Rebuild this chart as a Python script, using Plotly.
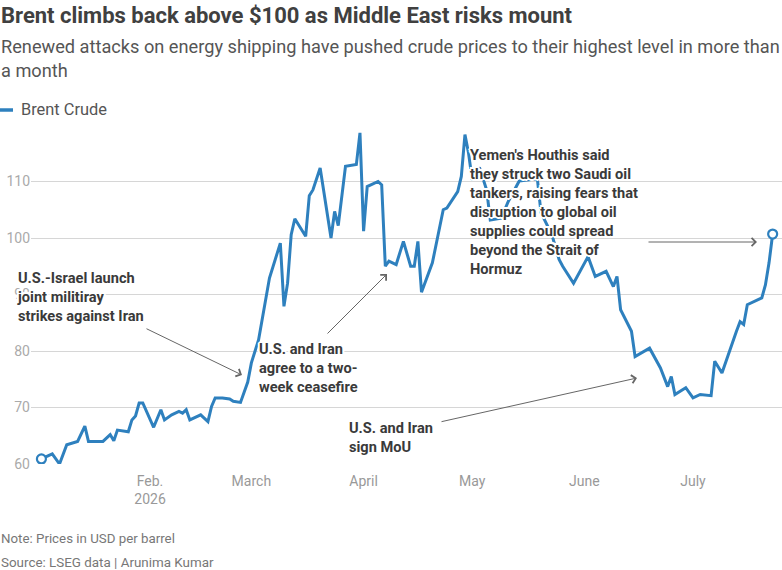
import plotly.graph_objects as go

# ---------------- data ----------------
dates = [
    "2026-01-02", "2026-01-05", "2026-01-07", "2026-01-09", "2026-01-12", "2026-01-14",
    "2026-01-15", "2026-01-19", "2026-01-21", "2026-01-22", "2026-01-23", "2026-01-26",
    "2026-01-27", "2026-01-28", "2026-01-29", "2026-01-30", "2026-02-02", "2026-02-04",
    "2026-02-05", "2026-02-07", "2026-02-09", "2026-02-10", "2026-02-11", "2026-02-12",
    "2026-02-15", "2026-02-17", "2026-02-18", "2026-02-19", "2026-02-21", "2026-02-23",
    "2026-02-24", "2026-02-25", "2026-02-26", "2026-02-28", "2026-03-01", "2026-03-03",
    "2026-03-04", "2026-03-06", "2026-03-09", "2026-03-10", "2026-03-11", "2026-03-12",
    "2026-03-13", "2026-03-16", "2026-03-17", "2026-03-18", "2026-03-20", "2026-03-23",
    "2026-03-24", "2026-03-25", "2026-03-27", "2026-03-30", "2026-03-31", "2026-04-01",
    "2026-04-02", "2026-04-05", "2026-04-06", "2026-04-07", "2026-04-08", "2026-04-10",
    "2026-04-12", "2026-04-14", "2026-04-15", "2026-04-16", "2026-04-17", "2026-04-20",
    "2026-04-23", "2026-04-24", "2026-04-27", "2026-04-28", "2026-04-29", "2026-04-30",
    "2026-05-01", "2026-05-03", "2026-05-05", "2026-05-06", "2026-05-09", "2026-05-11",
    "2026-05-14", "2026-05-19", "2026-05-20", "2026-05-23", "2026-05-25", "2026-05-26",
    "2026-05-29", "2026-06-02", "2026-06-04", "2026-06-07", "2026-06-09", "2026-06-10",
    "2026-06-11", "2026-06-14", "2026-06-15", "2026-06-19", "2026-06-22", "2026-06-24",
    "2026-06-25", "2026-06-26", "2026-06-29", "2026-07-01", "2026-07-03", "2026-07-06",
    "2026-07-07", "2026-07-09", "2026-07-13", "2026-07-14", "2026-07-15", "2026-07-16",
    "2026-07-20", "2026-07-21", "2026-07-22", "2026-07-23",
]
brent = [
    60.9, 61.8, 60.0, 63.4, 64.0, 66.7,
    64.0, 64.0, 65.2, 64.1, 66.0, 65.7,
    67.8, 68.5, 70.8, 70.8, 66.5, 69.6,
    67.8, 68.7, 69.3, 69.0, 69.6, 67.8,
    68.7, 67.5, 70.2, 71.7, 71.7, 71.5,
    71.1, 71.0, 70.9, 74.5, 77.9, 82.0,
    85.5, 92.9, 99.1, 87.9, 92.0, 100.6,
    103.4, 100.3, 107.5, 108.5, 112.4, 100.0,
    104.7, 102.2, 112.7, 113.0, 118.6, 101.2,
    109.1, 110.0, 109.4, 95.0, 95.9, 95.3,
    99.4, 95.0, 95.0, 99.4, 90.4, 95.6,
    105.0, 105.3, 108.2, 110.9, 118.3, 115.0,
    110.3, 112.5, 108.5, 103.2, 103.5, 106.5,
    110.1, 110.5, 104.5, 100.6, 96.2, 95.0,
    92.0, 96.7, 93.2, 94.1, 91.4, 93.2,
    87.3, 83.5, 79.0, 80.5, 77.0, 73.7,
    75.5, 72.3, 73.5, 71.7, 72.3, 72.1,
    78.2, 76.1, 83.5, 85.2, 84.7, 88.2,
    89.4, 91.7, 95.6, 100.7,
]
month_ticks = ["2026-02-01", "2026-03-01", "2026-04-01", "2026-05-01", "2026-06-01", "2026-07-01"]
month_labels = ["Feb.<br>2026", "March", "April", "May", "June", "July"]
y_ticks = [60, 70, 80, 90, 100, 110]

title = "Brent climbs back above $100 as Middle East risks mount"
subtitle = ("Renewed attacks on energy shipping have pushed crude prices to their highest level in more than"
            "<br>a month")
series_name = "Brent Crude"
note = "Note: Prices in USD per barrel"
source = "Source: LSEG data | Arunima Kumar"
notes_events = [
    "U.S.-Israel launch<br>joint militiray<br>strikes against Iran",
    "U.S. and Iran<br>agree to a two-<br>week ceasefire",
    "Yemen's Houthis said<br>they struck two Saudi oil<br>tankers, raising fears that<br>"
    "disruption to global oil<br>supplies could spread<br>beyond the Strait of<br>Hormuz",
    "U.S. and Iran<br>sign MoU",
]

# ---------------- layout helpers ----------------
W, H = 782, 570
L, R, T, B = 31, 0, 125, 106
PW, PH = W - L - R, H - T - B


def px(x):
    return (x - L) / PW


def py(y):
    return (H - B - y) / PH


FONT = "Roboto"
BLUE = "#2e80be"
HALO = ("#fff 2px 0 0, #fff -2px 0 0, #fff 0 2px 0, #fff 0 -2px 0, "
        "#fff 1.5px 1.5px 0, #fff -1.5px -1.5px 0, #fff 1.5px -1.5px 0, #fff -1.5px 1.5px 0")

fig = go.Figure()
fig.add_trace(go.Scatter(
    x=dates, y=brent, mode="lines", name=series_name,
    line=dict(color=BLUE, width=3), hoverinfo="skip", showlegend=False,
))
fig.add_trace(go.Scatter(
    x=[dates[0], dates[-1]], y=[brent[0], brent[-1]], mode="markers",
    marker=dict(size=9, color="white", line=dict(color=BLUE, width=2.2)),
    hoverinfo="skip", showlegend=False,
))

ann = []
# title / subtitle
ann.append(dict(text="<b>" + title + "</b>", x=px(-1), y=py(15), xref="paper", yref="paper",
                xanchor="left", yanchor="middle", showarrow=False,
                font=dict(family=FONT, size=22, color="#404040")))
ann.append(dict(text=subtitle, x=px(-1), y=py(58.5), xref="paper", yref="paper",
                xanchor="left", yanchor="middle", align="left", showarrow=False,
                font=dict(family=FONT, size=18.2, color="#555555")))
# legend
ann.append(dict(text=series_name, x=px(19), y=py(110), xref="paper", yref="paper",
                xanchor="left", yanchor="middle", showarrow=False,
                font=dict(family=FONT, size=16.4, color="#555555")))
# footer
ann.append(dict(text=note, x=px(-1), y=py(538), xref="paper", yref="paper",
                xanchor="left", yanchor="middle", showarrow=False,
                font=dict(family=FONT, size=13.3, color="#777777")))
ann.append(dict(text=source, x=px(-1), y=py(562), xref="paper", yref="paper",
                xanchor="left", yanchor="middle", showarrow=False,
                font=dict(family=FONT, size=13.4, color="#777777")))

# event labels (left x, block centre y)
label_pos = [(15, 296.5), (257, 368), (468, 212), (347, 437)]
for txt, (lx, ly) in zip(notes_events, label_pos):
    ann.append(dict(text="<b>" + txt + "</b>", x=px(lx), y=py(ly), xref="paper", yref="paper",
                    xanchor="left", yanchor="middle", align="left", showarrow=False,
                    font=dict(family=FONT, size=14.6, color="#3a3a3a", shadow=HALO)))

# arrows (tail -> head)
arrows = [((145, 328), (242, 375)), ((326, 335), (387, 274)),
          ((647, 242), (757, 242)), ((440, 422), (637, 378))]
for (tx, ty), (hx, hy) in arrows:
    ann.append(dict(text="", x=px(hx), y=py(hy), xref="paper", yref="paper",
                    ax=tx - hx, ay=ty - hy, showarrow=True, arrowhead=4, arrowsize=1.6,
                    arrowwidth=1, arrowcolor="#666666", standoff=0))

fig.update_layout(
    width=W, height=H,
    margin=dict(l=L, r=R, t=T, b=B, pad=0),
    paper_bgcolor="white", plot_bgcolor="white",
    showlegend=False,
    annotations=ann,
    shapes=[dict(type="line", xref="paper", yref="paper", x0=px(0), x1=px(13),
                 y0=py(110), y1=py(110), line=dict(color=BLUE, width=3.5))],
    xaxis=dict(type="date", range=["2025-12-30 03:00", "2026-07-25 14:00"],
               tickvals=month_ticks, ticktext=month_labels, showgrid=False,
               showline=False, zeroline=False, ticks="", ticklabelstandoff=7,
               tickfont=dict(family=FONT, size=14, color="#999999")),
    yaxis=dict(range=[60, 120], tickvals=y_ticks, showgrid=True, gridcolor="#d6d6d6",
               gridwidth=1.2, zeroline=False, showline=False, ticks="",
               tickfont=dict(family=FONT, size=14, color="#aaaaaa")),
)

fig.write_html("out.html")
